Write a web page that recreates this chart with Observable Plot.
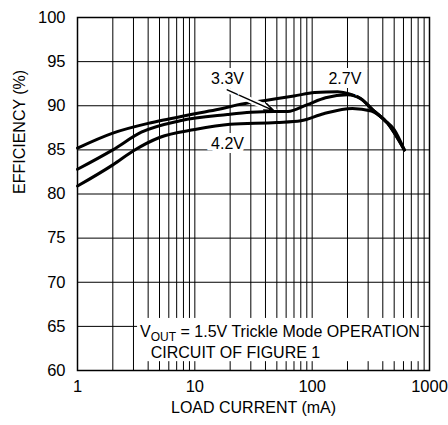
<!DOCTYPE html>
<html><head><meta charset="utf-8">
<script src="https://cdn.jsdelivr.net/npm/d3@7"></script>
<script src="https://cdn.jsdelivr.net/npm/@observablehq/plot@0.6"></script>
<style>body{margin:0;background:#fff} svg{display:block}</style>
</head><body><div id="chart"></div>
<script>
// Load current (mA) and efficiency (%)
const current27 = [1, 2, 4, 6, 10, 16, 23, 40, 70, 105, 165, 200, 260, 330, 440, 610];
const eff27     = [85.2, 86.9, 88.0, 88.5, 89.1, 89.6, 90.1, 90.6, 91.1, 91.5, 91.6, 91.4, 90.8, 89.5, 88.0, 85.0];
const current33 = [1, 2, 3.5, 7.5, 19, 30, 47, 62, 90, 130, 200, 260, 330, 440, 610];
const eff33     = [82.8, 85.0, 87.0, 88.3, 89.0, 89.25, 89.35, 89.35, 90.1, 90.9, 91.25, 90.8, 89.5, 88.0, 85.0];
const current42 = [1, 2, 3, 5, 10, 20, 50, 80, 125, 220, 320, 420, 500, 610];
const eff42     = [80.9, 83.3, 84.9, 86.4, 87.3, 87.9, 88.1, 88.3, 89.1, 89.7, 89.4, 88.3, 87.3, 85.0];

const xMajor = [1, 10, 100, 1000];
const xMinor = [2,3,4,5,6,7,8,9,20,30,40,50,60,70,80,90,200,300,400,500,600,700,800,900];
const yTicks = [60, 65, 70, 75, 80, 85, 90, 95, 100];

const seriesLabels = ["2.7V", "3.3V", "4.2V"];
const labelX = [190, 19, 19];
const labelY = [93.1, 93.1, 85.7];

const rows = (name, xs, ys) => xs.map((x, i) => ({series: name, current: x, eff: ys[i]}));
const d27 = rows("2.7V", current27, eff27);
const d33 = rows("3.3V", current33, eff33);
const d42 = rows("4.2V", current42, eff42);
const labels = seriesLabels.map((t, i) => ({text: t, x: labelX[i], y: labelY[i]}));
const arrow = [{x1: 18.9, y1: 91.8, x2: 47, y2: 89.45}];
const noteBox = [{x1: 3.25, x2: 840, y1: 61.0, y2: 65.9}];

const font = "Liberation Sans, Arial, Helvetica, sans-serif";

const plot = Plot.plot({
  width: 448, height: 425,
  marginLeft: 77, marginRight: 19, marginTop: 17, marginBottom: 55,
  style: {fontFamily: font, fontSize: "16px", color: "#000", background: "#fff"},
  x: {type: "log", domain: [1, 1000]},
  y: {domain: [60, 100]},
  marks: [
    Plot.gridX({ticks: xMinor.concat(xMajor), stroke: "#000", strokeOpacity: 1, strokeWidth: 1}),
    Plot.gridY({ticks: yTicks, stroke: "#000", strokeOpacity: 1, strokeWidth: 1}),
    Plot.rect(noteBox, {x1: "x1", x2: "x2", y1: "y1", y2: "y2", fill: "#fff"}),
    Plot.axisY({ticks: yTicks, tickSize: 0, tickPadding: 12, fontSize: 16.5, label: null}),
    Plot.axisX({ticks: xMajor, tickSize: 0, tickPadding: 10, fontSize: 16.5, tickFormat: d => String(d), label: null}),
    Plot.line(d27, {x: "current", y: "eff", stroke: "#000", strokeWidth: 3, curve: "monotone-x"}),
    Plot.arrow(arrow, {x1: "x1", y1: "y1", x2: "x2", y2: "y2", stroke: "#fff", strokeWidth: 6, headLength: 0}),
    Plot.line(d33, {x: "current", y: "eff", stroke: "#000", strokeWidth: 3, curve: "monotone-x"}),
    Plot.line(d42, {x: "current", y: "eff", stroke: "#000", strokeWidth: 3, curve: "monotone-x"}),
    Plot.arrow(arrow, {x1: "x1", y1: "y1", x2: "x2", y2: "y2", stroke: "#000", strokeWidth: 1.5, headLength: 10, headAngle: 40}),
    Plot.text(labels, {x: "x", y: "y", text: "text", fontSize: 16, fill: "none", stroke: "#fff", strokeWidth: 8, strokeLinejoin: "miter"}),
    Plot.text(labels, {x: "x", y: "y", text: "text", fontSize: 16, fill: "#000"}),
    Plot.frame({stroke: "#000", strokeWidth: 1.5}),
    Plot.text(["LOAD CURRENT (mA)"], {frameAnchor: "bottom", dy: 42, fontSize: 16, fill: "#000"}),
    Plot.text(["EFFICIENCY (%)"], {frameAnchor: "left", dx: -58, rotate: -90, fontSize: 16, fill: "#000"})
  ]
});

// Annotation with subscript
const sx = plot.scale("x"), sy = plot.scale("y");
const svg = d3.select(plot);
const note = svg.append("g").attr("font-family", font).attr("font-size", 16).attr("fill", "#000").attr("text-anchor", "start");
const t1 = note.append("text").attr("x", sx.apply(3.45)).attr("y", sy.apply(63.77));
t1.append("tspan").text("V");
t1.append("tspan").attr("font-size", 12).attr("dy", 4).text("OUT");
t1.append("tspan").attr("dy", -4).text(" = 1.5V Trickle Mode OPERATION");
note.append("text").attr("x", sx.apply(4.25)).attr("y", sy.apply(61.36)).text("CIRCUIT OF FIGURE 1");

document.getElementById("chart").appendChild(plot);
</script>
</body></html>
